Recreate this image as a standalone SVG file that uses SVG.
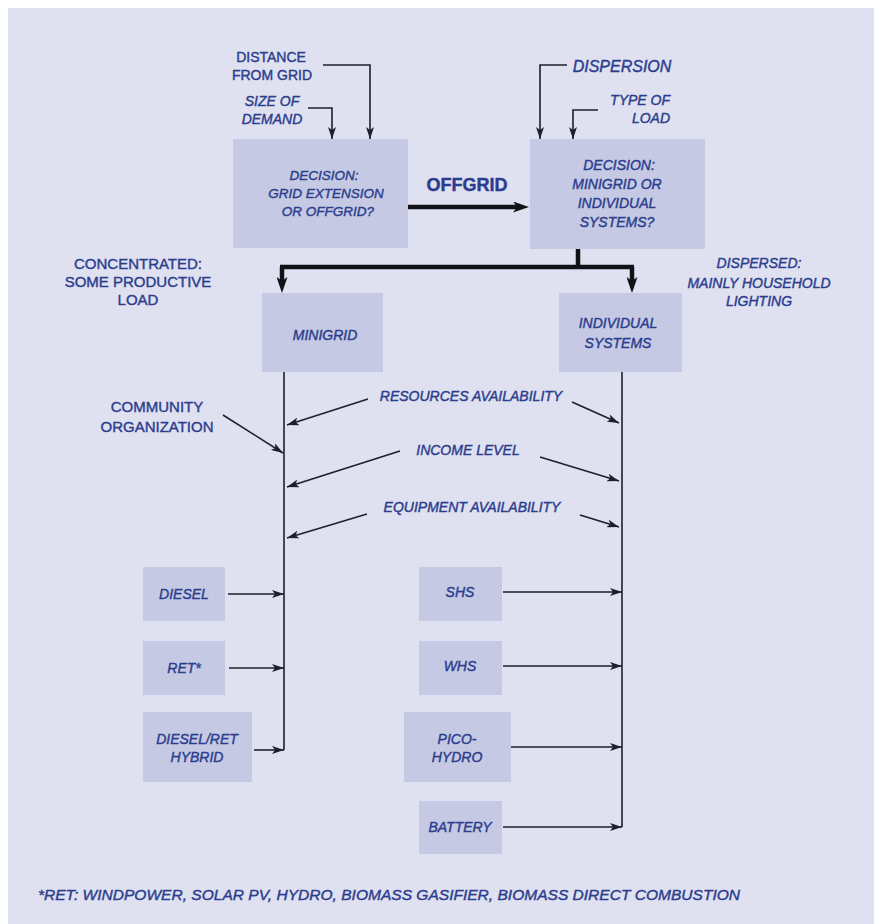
<svg xmlns="http://www.w3.org/2000/svg" width="874" height="924" viewBox="0 0 874 924">
<style>
.bg{fill:#dfe0f0}
.box{fill:#c6c9e3}
.t{font-family:"Liberation Sans",Arial,sans-serif;font-size:14px;fill:#2b3d8e;stroke:#2b3d8e;stroke-width:0.4;font-style:italic;text-anchor:middle}
.u{font-style:normal;font-size:15px}
.b{font-size:13.5px}
.ln{fill:none;stroke:#1e1f2c;stroke-width:1.6}
.thick{fill:none;stroke:#111218;stroke-width:4.5}
</style>
<defs>
<marker id="ah" viewBox="0 0 12 8" refX="12" refY="4" markerWidth="12" markerHeight="8" markerUnits="userSpaceOnUse" orient="auto">
<path d="M0,0 L12,4 L0,8 L3,4 z" fill="#1e1f2c"/>
</marker>
<marker id="ahb" viewBox="0 0 16 11" refX="4" refY="5.5" markerWidth="16" markerHeight="11" markerUnits="userSpaceOnUse" orient="auto">
<path d="M0,0 L16,5.5 L0,11 L4,5.5 z" fill="#111218"/>
</marker>
</defs>
<rect x="0" y="0" width="874" height="924" fill="#ffffff"/>
<rect class="bg" x="8" y="8" width="866" height="916"/>

<g id="connectors">
<path class="ln" d="M323,65 H370 V139" marker-end="url(#ah)"/>
<path class="ln" d="M308,108 H332 V139" marker-end="url(#ah)"/>
<path class="ln" d="M567,65 H540 V139" marker-end="url(#ah)"/>
<path class="ln" d="M598,110 H573 V139" marker-end="url(#ah)"/>
<path class="thick" d="M408,207 H517" marker-end="url(#ahb)"/>
<path class="thick" d="M578,249 V267"/>
<path class="thick" d="M280,267 H634"/>
<path class="thick" d="M282,267 V281" marker-end="url(#ahb)"/>
<path class="thick" d="M632,267 V281" marker-end="url(#ahb)"/>
<path class="ln" d="M284,372 V750"/>
<path class="ln" d="M622,372 V827"/>
<path class="ln" d="M223,415 L283,453" marker-end="url(#ah)"/>
<path class="ln" d="M368,399 L287,425" marker-end="url(#ah)"/>
<path class="ln" d="M572,402 L619,423" marker-end="url(#ah)"/>
<path class="ln" d="M400,451 L287,487" marker-end="url(#ah)"/>
<path class="ln" d="M540,457 L619,481" marker-end="url(#ah)"/>
<path class="ln" d="M367,514 L287,538" marker-end="url(#ah)"/>
<path class="ln" d="M580,515 L619,527" marker-end="url(#ah)"/>
<path class="ln" d="M228,594 H284" marker-end="url(#ah)"/>
<path class="ln" d="M229,668 H284" marker-end="url(#ah)"/>
<path class="ln" d="M254,750 H284" marker-end="url(#ah)"/>
<path class="ln" d="M503,592 H622" marker-end="url(#ah)"/>
<path class="ln" d="M503,666 H622" marker-end="url(#ah)"/>
<path class="ln" d="M511,747 H622" marker-end="url(#ah)"/>
<path class="ln" d="M503,827 H622" marker-end="url(#ah)"/>
</g>

<g id="label-distance"><text class="t u" x="271" y="62" style="font-size:14px">DISTANCE</text><text class="t u" x="272" y="80" style="font-size:14px">FROM GRID</text></g>
<g id="label-size"><text class="t" x="272" y="106">SIZE OF</text><text class="t" x="272" y="124">DEMAND</text></g>
<g id="label-dispersion"><text class="t" x="622" y="72" style="font-size:16px">DISPERSION</text></g>
<g id="label-typeload"><text class="t" x="670" y="105" style="text-anchor:end">TYPE OF</text><text class="t" x="670" y="123" style="text-anchor:end">LOAD</text></g>

<g id="decision-grid">
<rect class="box" x="233" y="139" width="175" height="109"/>
<text class="t b" x="324" y="180">DECISION:</text>
<text class="t b" x="326" y="198">GRID EXTENSION</text>
<text class="t b" x="328" y="216">OR OFFGRID?</text>
</g>
<g id="label-offgrid"><text class="t u" x="467" y="191" style="font-size:18px;font-weight:bold">OFFGRID</text></g>
<g id="decision-mini">
<rect class="box" x="530" y="139" width="175" height="110"/>
<text class="t" x="619" y="170">DECISION:</text>
<text class="t" x="617" y="189">MINIGRID OR</text>
<text class="t" x="617" y="208">INDIVIDUAL</text>
<text class="t" x="617" y="227">SYSTEMS?</text>
</g>

<g id="label-concentrated"><text class="t u" x="138" y="269">CONCENTRATED:</text><text class="t u" x="138" y="287">SOME PRODUCTIVE</text><text class="t u" x="138" y="305">LOAD</text></g>
<g id="label-dispersed"><text class="t" x="759" y="268">DISPERSED:</text><text class="t" x="759" y="288">MAINLY HOUSEHOLD</text><text class="t" x="759" y="306">LIGHTING</text></g>

<g id="minigrid"><rect class="box" x="262" y="293" width="121" height="79"/><text class="t" x="325" y="340">MINIGRID</text></g>
<g id="individual"><rect class="box" x="559" y="293" width="123" height="79"/><text class="t" x="618" y="328">INDIVIDUAL</text><text class="t" x="618" y="348">SYSTEMS</text></g>

<g id="label-community"><text class="t u" x="157" y="412">COMMUNITY</text><text class="t u" x="157" y="432">ORGANIZATION</text></g>
<g id="label-resources"><text class="t" x="471" y="401">RESOURCES AVAILABILITY</text></g>
<g id="label-income"><text class="t" x="468" y="455">INCOME LEVEL</text></g>
<g id="label-equipment"><text class="t" x="472" y="512">EQUIPMENT AVAILABILITY</text></g>

<g id="diesel"><rect class="box" x="143" y="567" width="82" height="54"/><text class="t" x="184" y="599">DIESEL</text></g>
<g id="ret"><rect class="box" x="143" y="641" width="82" height="54"/><text class="t" x="184" y="673">RET*</text></g>
<g id="hybrid"><rect class="box" x="143" y="712" width="109" height="70"/><text class="t" x="197" y="744">DIESEL/RET</text><text class="t" x="197" y="762">HYBRID</text></g>

<g id="shs"><rect class="box" x="419" y="567" width="83" height="54"/><text class="t" x="460" y="597">SHS</text></g>
<g id="whs"><rect class="box" x="419" y="641" width="83" height="54"/><text class="t" x="460" y="671">WHS</text></g>
<g id="picohydro"><rect class="box" x="404" y="712" width="107" height="70"/><text class="t" x="457" y="744">PICO-</text><text class="t" x="457" y="762">HYDRO</text></g>
<g id="battery"><rect class="box" x="419" y="801" width="83" height="53"/><text class="t" x="460" y="832">BATTERY</text></g>

<g id="footnote"><text class="t" x="38" y="900" style="text-anchor:start;font-size:15px" textLength="702" lengthAdjust="spacingAndGlyphs">*RET: WINDPOWER, SOLAR PV, HYDRO, BIOMASS GASIFIER, BIOMASS DIRECT COMBUSTION</text></g>
</svg>
